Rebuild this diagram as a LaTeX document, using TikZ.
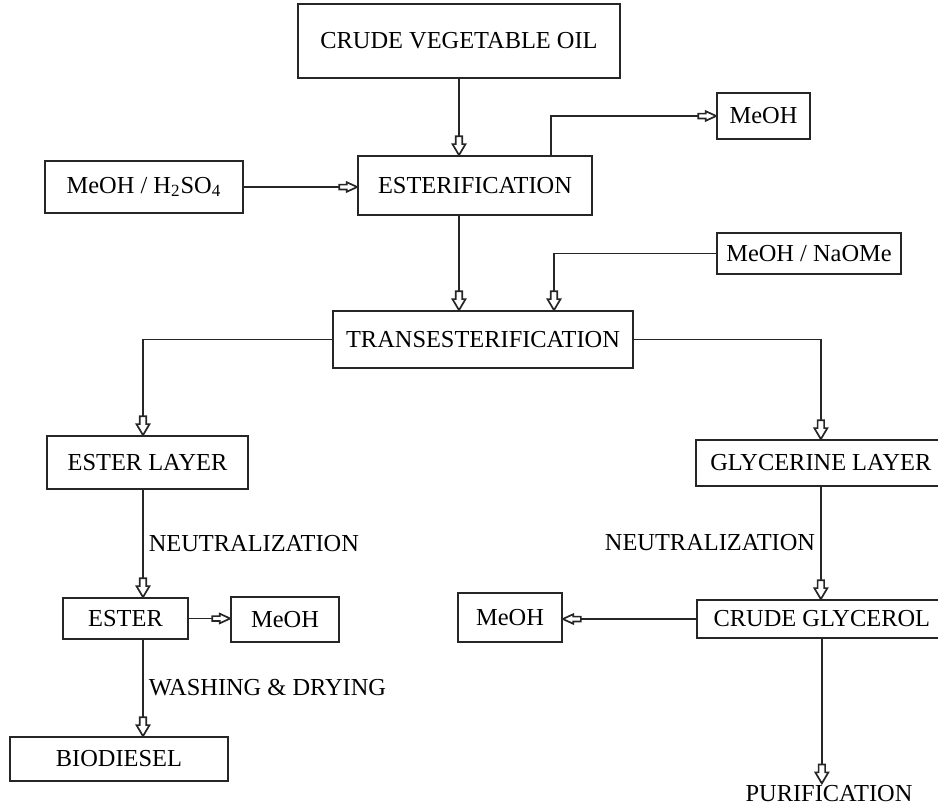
\documentclass[tikz,border=0pt]{standalone}
\usepackage{fontspec}
\setmainfont{Liberation Serif}
\usetikzlibrary{arrows.meta}
% hollow block arrow tip (short stem + open head)
\pgfdeclarearrow{
  name = Block,
  parameters = {\the\pgfarrowlength,\the\pgfarrowwidth},
  setup code = {
    \pgfarrowssettipend{0pt}
    \pgfarrowssetbackend{-\pgfarrowlength}
    \pgfarrowssetlineend{-\pgfarrowlength}
    \pgfarrowssavethe\pgfarrowlength
    \pgfarrowssavethe\pgfarrowwidth
  },
  drawing code = {
    \pgfpathmoveto{\pgfpoint{0pt}{0pt}}
    \pgfpathlineto{\pgfpoint{-0.58\pgfarrowlength}{0.5\pgfarrowwidth}}
    \pgfpathlineto{\pgfpoint{-0.58\pgfarrowlength}{0.25\pgfarrowwidth}}
    \pgfpathlineto{\pgfpoint{-\pgfarrowlength}{0.25\pgfarrowwidth}}
    \pgfpathlineto{\pgfpoint{-\pgfarrowlength}{-0.25\pgfarrowwidth}}
    \pgfpathlineto{\pgfpoint{-0.58\pgfarrowlength}{-0.25\pgfarrowwidth}}
    \pgfpathlineto{\pgfpoint{-0.58\pgfarrowlength}{-0.5\pgfarrowwidth}}
    \pgfpathclose
    \pgfusepathqstroke
  },
  defaults = {length=9.5pt, width=6.5pt}
}

\begin{document}
\begin{tikzpicture}[x=0.5pt,y=-0.5pt,
  box/.style={draw=black!85,line width=0.85pt,inner sep=0pt,font=\fontsize{12.2}{14}\selectfont},
  flow/.style={draw=black!85,line width=0.85pt,-{Block[length=9.5pt,width=6.5pt]}},
  sideflow/.style={flow,-{Block[length=9pt,width=4.8pt]}},
  lab/.style={inner sep=2.5pt,font=\fontsize{12.2}{14}\selectfont}]
\useasboundingbox (0,0) rectangle (938,809); % --- same size as the scan
\clip (0,0) rectangle (938,809);
% --- process boxes
\node[box,minimum width=161pt,minimum height=37pt] (crude) at (459,41) {CRUDE VEGETABLE OIL};
\node[box,minimum width=117pt,minimum height=29.5pt] (esterif) at (475,185.5) {ESTERIFICATION};
\node[box,minimum width=46.5pt,minimum height=23pt] (meohtop) at (763.5,116) {MeOH};
\node[box,minimum width=99pt,minimum height=26pt] (acid) at (144,187) {MeOH / H\textsubscript{2}SO\textsubscript{4}};
\node[box,minimum width=92pt,minimum height=20.5pt] (base) at (809,253.5) {MeOH / NaOMe};
\node[box,minimum width=150pt,minimum height=28.5pt] (trans) at (483,339.5) {TRANSESTERIFICATION};
\node[box,minimum width=100.5pt,minimum height=26.5pt] (elayer) at (147.5,462.5) {ESTER LAYER};
\node[box,minimum width=125pt,minimum height=23pt,anchor=west] (glayer) at (695,463) {GLYCERINE LAYER}; % runs off the page
\node[box,minimum width=62.5pt,minimum height=20.5pt] (ester) at (125.5,618.5) {ESTER};
\node[box,minimum width=54pt,minimum height=22.5pt] (meohleft) at (285,619.5) {MeOH};
\node[box,minimum width=52pt,minimum height=24.5pt] (meohright) at (510,617.5) {MeOH};
\node[box,minimum width=125pt,minimum height=19pt,anchor=west] (cglyc) at (696,619) {CRUDE GLYCEROL};
\node[box,minimum width=109pt,minimum height=22pt] (biodiesel) at (119,759) {BIODIESEL};
\node[lab,inner sep=1pt] (purif) at (829,794) {PURIFICATION};
% --- x of the vertical lines that are off centre
\coordinate (lx) at (143,0);
\coordinate (ex) at (551,0);
\coordinate (bx) at (554,0);
% --- connectors
\draw[flow] (crude.south) -- (crude.south |- esterif.north);
\draw[sideflow] (acid.east) -- (acid.east -| esterif.west);
\draw[sideflow] (ex |- esterif.north) |- (meohtop.west);
\draw[flow] (esterif.south -| crude.south) -- (trans.north -| crude.south);
\draw[flow] (base.west) -| (bx |- trans.north);
\draw[flow] (trans.west) -| (lx |- elayer.north);
\draw[flow] (trans.east) -| (glayer.north);
\draw[flow] (lx |- elayer.south) -- node[lab,right]{NEUTRALIZATION} (lx |- ester.north);
\draw[sideflow] (ester.east) -- (ester.east -| meohleft.west);
\draw[flow] (lx |- ester.south) -- node[lab,right]{WASHING \& DRYING} (lx |- biodiesel.north);
\draw[flow] (glayer.south) -- node[lab,left]{NEUTRALIZATION} (glayer.south |- cglyc.north);
\draw[sideflow] (cglyc.west) -- (cglyc.west -| meohright.east);
\draw[flow] (cglyc.south) -- (cglyc.south |- purif.north);
\end{tikzpicture}
\end{document}
